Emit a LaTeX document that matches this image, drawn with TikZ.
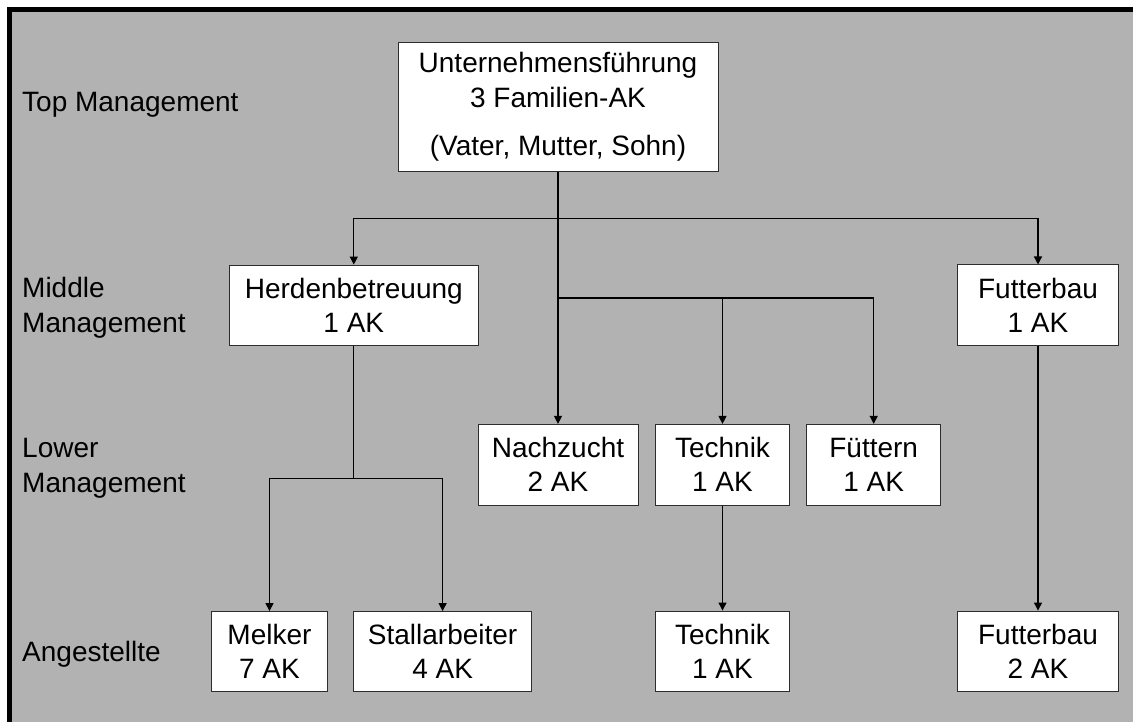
\documentclass[tikz,border=0pt]{standalone}
\usepackage{fontspec}
\setmainfont{Liberation Sans}
\usetikzlibrary{arrows.meta}
\definecolor{bggray}{RGB}{178,178,178}
\definecolor{boxline}{RGB}{45,45,45}
\tikzset{
  orgbox/.style={draw=boxline, line width=0.9pt, fill=white, inner sep=0pt,
    align=center, font=\fontsize{28}{34}\selectfont},
  lbl/.style={inner sep=0pt, align=left, font=\fontsize{28}{35}\selectfont},
  conn/.style={line width=1.2pt, black},
  arr/.style={conn, -{Triangle[length=8pt,width=8pt]}}
}
\begin{document}
\begin{tikzpicture}[x=1pt,y=1pt]
\useasboundingbox (0,0) rectangle (1133,-722);
\fill[bggray] (7.3,-7.3) rectangle (1133,-722);
\draw[line width=5pt] (9.8,-722) -- (9.8,-9.8) -- (1133,-9.8);

% side labels
\node[lbl, anchor=base west] (ltop) at (22,-111.7) {Top Management};
\node[lbl, anchor=west] (lmid) at (22,-308) {Middle\\Management};
\node[lbl, anchor=west] (llow) at (22,-468.6) {Lower\\Management};
\node[lbl, anchor=base west] (lang) at (22,-661.7) {Angestellte};

% boxes
\node[orgbox, minimum width=320pt, minimum height=128.6pt, font=\fontsize{28}{35}\selectfont]
  (top) at (558,-107) {Unternehmensführung\\3 Familien-AK\\[13pt](Vater, Mutter, Sohn)};
\node[orgbox, minimum width=249pt, minimum height=80.3pt] (herden) at (353.8,-305.2) {Herdenbetreuung\\1 AK};
\node[orgbox, minimum width=160.6pt, minimum height=80.5pt] (futterM) at (1038,-305.2) {Futterbau\\1 AK};
\node[orgbox, minimum width=160pt, minimum height=80.7pt] (nach) at (558,-464.7) {Nachzucht\\2 AK};
\node[orgbox, minimum width=133.6pt, minimum height=80.7pt] (techL) at (722.5,-464.7) {Technik\\1 AK};
\node[orgbox, minimum width=134pt, minimum height=80.7pt] (fuet) at (873.7,-464.7) {Füttern\\1 AK};
\node[orgbox, minimum width=115.6pt, minimum height=79.5pt] (melker) at (269.5,-651.3) {Melker\\7 AK};
\node[orgbox, minimum width=177.7pt, minimum height=79.5pt] (stall) at (442.6,-651.3) {Stallarbeiter\\4 AK};
\node[orgbox, minimum width=133.7pt, minimum height=80pt] (techB) at (722.5,-651) {Technik\\1 AK};
\node[orgbox, minimum width=160.6pt, minimum height=80pt] (futterB) at (1038,-651) {Futterbau\\2 AK};

% junctions
\coordinate (j1) at (558,-218.3);
\coordinate (j2) at (558,-298);
\coordinate (j3) at (353.8,-478.3);

% connectors
\draw[conn] (top.south) -- (j2);
\draw[arr] (j1) -| (herden.north);
\draw[arr] (j1) -| (futterM.north);
\draw[arr] (j2) -- (nach.north);
\draw[arr] (j2) -| (techL.north);
\draw[arr] (j2) -| (fuet.north);
\draw[conn] (herden.south) -- (j3);
\draw[arr] (j3) -| (melker.north);
\draw[arr] (j3) -| (stall.north);
\draw[arr] (techL.south) -- (techB.north);
\draw[arr] (futterM.south) -- (futterB.north);
\end{tikzpicture}
\end{document}
